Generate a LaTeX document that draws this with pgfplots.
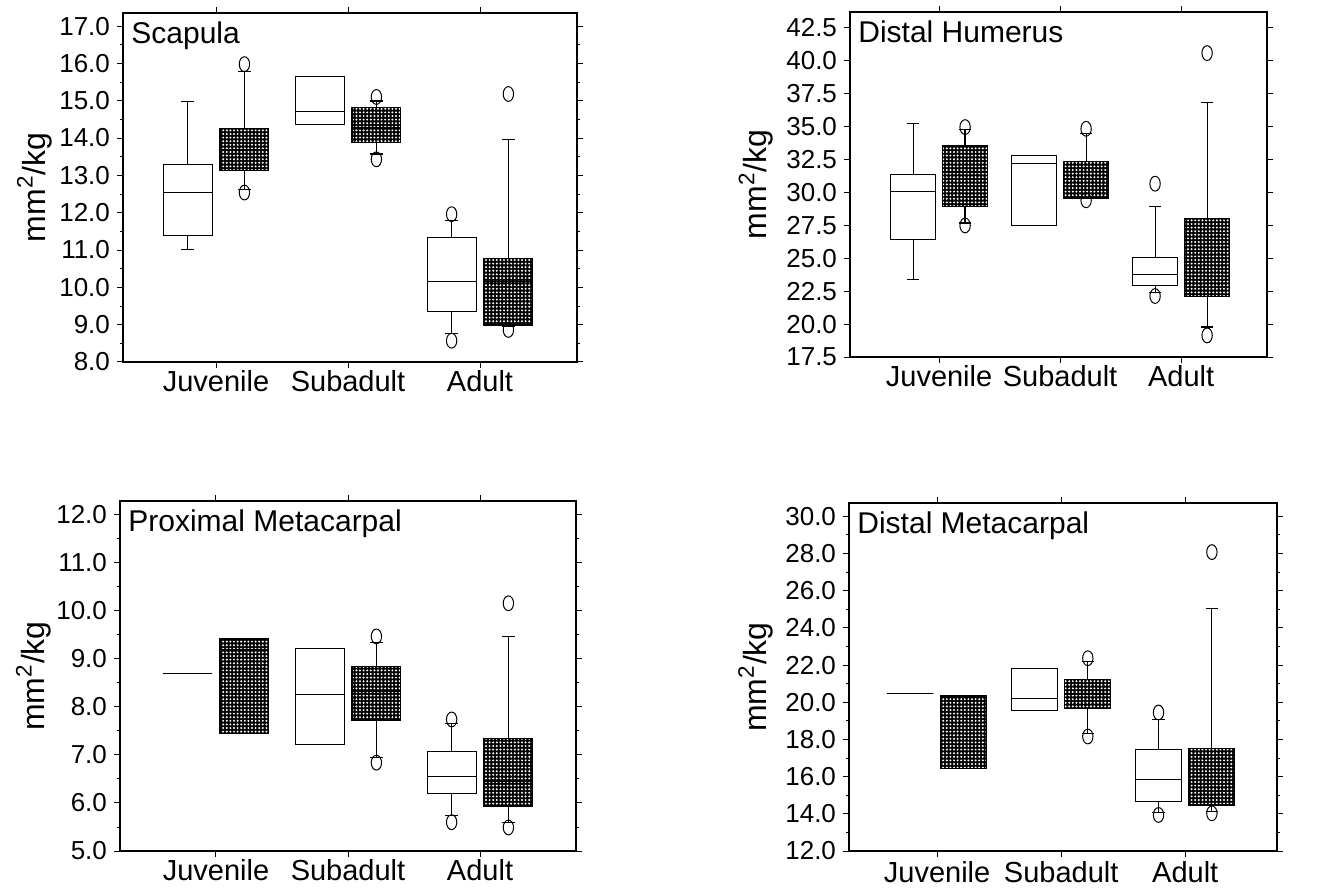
\documentclass[border=0pt]{standalone}
\usepackage{fontspec}
\setmainfont{Liberation Sans}
\usepackage{pgfplots}
\pgfplotsset{compat=1.18}
\usepgfplotslibrary{statistics}
\usetikzlibrary{patterns.meta}

\tikzset{ptitle/.style={anchor=north west, font=\fontsize{15}{17}\selectfont, inner sep=2pt, xshift=2pt, yshift=-2pt}}
\pgfplotsset{
  panel/.style={
    scale only axis, anchor=south west,
    axis line style={line width=0.6pt},
    every tick/.style={black, line width=0.5pt},
    tick align=outside, xtick pos=both, ytick pos=both,
    major tick length=3pt, minor tick length=1.5pt,
    xtick={1,2,3}, xticklabels={Juvenile,Subadult,Adult},
    xticklabel style={font=\fontsize{14.5}{16}\selectfont, yshift=2.5pt},
    yticklabel style={font=\fontsize{13}{15}\selectfont,
      /pgf/number format/.cd, fixed, fixed zerofill, precision=1},
    /pgf/number format/assume math mode=true,
    ylabel={mm\textsuperscript{2}/kg},
    ylabel style={font=\fontsize{16}{18}\selectfont},
    clip=false,
  },
  wb/.style={black, line width=0.5pt, fill=white, mark=o, mark size=3.7pt,
    mark options={xscale=0.7, solid, line width=0.5pt},
    boxplot/draw direction=y,
    boxplot/box extend=0.37, boxplot/whisker extend=0.1},
  sb/.style={black, line width=0.6pt, mark=o, mark size=3.7pt,
    mark options={xscale=0.7, solid, line width=0.5pt},
    boxplot/draw direction=y,
    boxplot/box extend=0.37, boxplot/whisker extend=0.1,
    boxplot/every box/.style={fill=black,
      postaction={pattern={Dots[distance=1.8pt, radius=0.55pt]}, pattern color=white}}},
}
% #1 position, #2 lw, #3 lq, #4 med, #5 uq, #6 uw, #7 outliers
\newcommand{\whitebox}[7]{\addplot[wb, boxplot prepared={draw position=#1, lower whisker=#2, lower quartile=#3, median=#4, upper quartile=#5, upper whisker=#6}] coordinates {#7};}
\newcommand{\shadebox}[7]{\addplot[sb, boxplot prepared={draw position=#1, lower whisker=#2, lower quartile=#3, median=#4, upper quartile=#5, upper whisker=#6}] coordinates {#7};}

\begin{document}
\begin{tikzpicture}
\path[use as bounding box] (0,0) rectangle (661pt,445pt);

% Scapula
\begin{axis}[panel, at={(61.5pt,264pt)}, width=227pt, height=174.5pt,
  xmin=0.295, xmax=3.735, ymin=8, ymax=17.35, ytick={8,9,...,17}, minor y tick num=1,
  ylabel style={at={(axis description cs:-0.195,0.5)}, anchor=center}]
\whitebox{0.785}{11.02}{11.39}{12.55}{13.29}{14.99}{}
\shadebox{1.215}{12.63}{13.12}{13.70}{14.25}{15.79}{(0,15.98) (0,12.54)}
\whitebox{1.785}{14.37}{14.37}{14.72}{15.66}{15.66}{}
\shadebox{2.215}{13.57}{13.88}{14.28}{14.81}{14.99}{(0,15.10) (0,13.43)}
\whitebox{2.785}{8.77}{9.35}{10.17}{11.33}{11.80}{(0,11.96) (0,8.57)}
\shadebox{3.215}{8.95}{8.99}{10.15}{10.78}{13.96}{(0,15.18) (0,8.86)}
\node[ptitle] at (rel axis cs:0,1) {Scapula};
\end{axis}

% Distal Humerus
\begin{axis}[panel, at={(425pt,266.5pt)}, width=208.5pt, height=172.5pt,
  xmin=0.264, xmax=3.71, ymin=17.5, ymax=43.7, ytick={17.5,20,...,42.5},
  ylabel style={at={(axis description cs:-0.225,0.5)}, anchor=center}]
\whitebox{0.785}{23.37}{26.41}{30.05}{31.37}{35.21}{}
\shadebox{1.215}{27.67}{28.94}{31.50}{33.57}{34.76}{(0,34.96) (0,27.49)}
\whitebox{1.785}{27.52}{27.52}{32.23}{32.78}{32.78}{}
\shadebox{2.215}{29.57}{29.57}{31.04}{32.35}{34.50}{(0,34.83) (0,29.40)}
\whitebox{2.785}{22.41}{22.91}{23.78}{25.09}{28.96}{(0,30.66) (0,22.13)}
\shadebox{3.215}{19.78}{22.10}{23.62}{28.03}{36.81}{(0,40.58) (0,19.14)}
\node[ptitle] at (rel axis cs:0,1) {Distal Humerus};
\end{axis}

% Proximal Metacarpal
\begin{axis}[panel, at={(60pt,19.5pt)}, width=228pt, height=175pt,
  xmin=0.273, xmax=3.727, ymin=5, ymax=12.29, ytick={5,6,...,12}, minor y tick num=1,
  ylabel style={at={(axis description cs:-0.19,0.5)}, anchor=center}]
\whitebox{0.785}{8.69}{8.69}{8.69}{8.69}{8.69}{}
\shadebox{1.215}{7.45}{7.45}{9.19}{9.43}{9.43}{}
\whitebox{1.785}{7.21}{7.21}{8.27}{9.22}{9.22}{}
\shadebox{2.215}{6.94}{7.73}{8.32}{8.84}{9.34}{(0,9.47) (0,6.84)}
\whitebox{2.785}{5.74}{6.20}{6.55}{7.07}{7.65}{(0,7.74) (0,5.60)}
\shadebox{3.215}{5.59}{5.92}{6.44}{7.35}{9.47}{(0,10.16) (0,5.49)}
\node[ptitle] at (rel axis cs:0,1) {Proximal Metacarpal};
\end{axis}

% Distal Metacarpal
\begin{axis}[panel, at={(424.5pt,19.5pt)}, width=214pt, height=174pt,
  xmin=0.29, xmax=3.74, ymin=12, ymax=30.72, ytick={12,14,...,30}, minor y tick num=1,
  xticklabel style={yshift=-1pt},
  ylabel style={at={(axis description cs:-0.218,0.5)}, anchor=center}]
\whitebox{0.785}{20.45}{20.45}{20.45}{20.45}{20.45}{}
\shadebox{1.215}{16.45}{16.45}{19.50}{20.34}{20.34}{}
\whitebox{1.785}{19.54}{19.54}{20.20}{21.83}{21.83}{}
\shadebox{2.215}{18.33}{19.68}{20.45}{21.24}{22.19}{(0,22.37) (0,18.16)}
\whitebox{2.785}{14.06}{14.66}{15.86}{17.44}{19.09}{(0,19.45) (0,13.94)}
\shadebox{3.215}{14.12}{14.48}{16.00}{17.53}{25.06}{(0,28.08) (0,14.03)}
\node[ptitle] at (rel axis cs:0,1) {Distal Metacarpal};
\end{axis}
\end{tikzpicture}
\end{document}
